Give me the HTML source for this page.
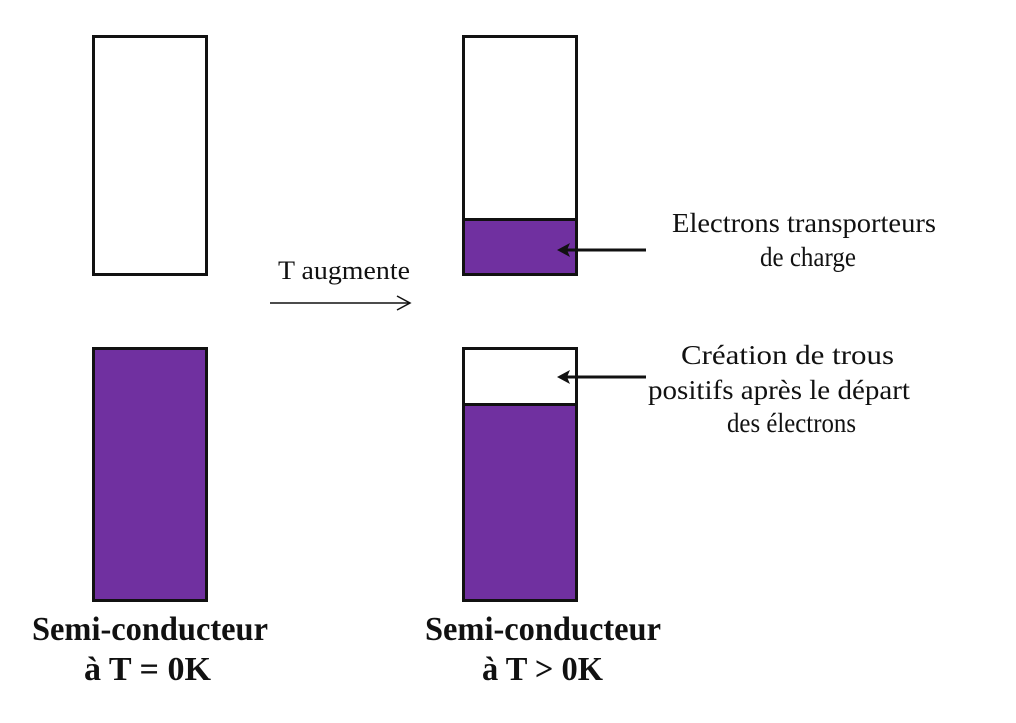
<!DOCTYPE html>
<html><head><meta charset="utf-8"><style>
html,body{margin:0;padding:0;background:#fff;}
svg{display:block;}
text{font-family:"Liberation Serif",serif;fill:#111;}
</style></head><body>
<svg width="1016" height="723" viewBox="0 0 1016 723" xmlns="http://www.w3.org/2000/svg">
<rect width="1016" height="723" fill="#fff"/>
<rect x="93.5" y="36.5" width="113" height="238" fill="#fff" stroke="#111" stroke-width="3"/>
<rect x="93.5" y="348.5" width="113" height="252" fill="#7030a0" stroke="#111" stroke-width="3"/>
<rect x="463.5" y="36.5" width="113" height="238" fill="#fff" stroke="#111" stroke-width="3"/>
<rect x="463.5" y="219.5" width="113" height="55" fill="#7030a0" stroke="#111" stroke-width="3"/>
<rect x="463.5" y="348.5" width="113" height="252" fill="#7030a0" stroke="#111" stroke-width="3"/>
<rect x="463.5" y="348.5" width="113" height="56" fill="#fff" stroke="#111" stroke-width="3"/>
<text x="278" y="279" font-size="26" textLength="132" lengthAdjust="spacingAndGlyphs">T augmente</text>
<line x1="270" y1="303" x2="409" y2="303" stroke="#111" stroke-width="1.5"/>
<polyline points="397,296 410,303 397,310" fill="none" stroke="#111" stroke-width="1.5"/>
<line x1="566" y1="250" x2="646" y2="250" stroke="#111" stroke-width="3"/>
<polygon points="557,250 570,243 567,250 570,257" fill="#111"/>
<line x1="566" y1="377" x2="646" y2="377" stroke="#111" stroke-width="3"/>
<polygon points="557,377 570,370 567,377 570,384" fill="#111"/>
<text x="672" y="232" font-size="27" textLength="264" lengthAdjust="spacingAndGlyphs">Electrons transporteurs</text>
<text x="760" y="266" font-size="27" textLength="96" lengthAdjust="spacingAndGlyphs">de charge</text>
<text x="681" y="364" font-size="27" textLength="213" lengthAdjust="spacingAndGlyphs">Création de trous</text>
<text x="648" y="399" font-size="27" textLength="262" lengthAdjust="spacingAndGlyphs">positifs après le départ</text>
<text x="727" y="432" font-size="27" textLength="129" lengthAdjust="spacingAndGlyphs">des électrons</text>
<text x="32" y="640" font-size="34" font-weight="bold" textLength="236" lengthAdjust="spacingAndGlyphs">Semi-conducteur</text>
<text x="84" y="680" font-size="34" font-weight="bold" textLength="127" lengthAdjust="spacingAndGlyphs">à T = 0K</text>
<text x="425" y="640" font-size="34" font-weight="bold" textLength="236" lengthAdjust="spacingAndGlyphs">Semi-conducteur</text>
<text x="482" y="680" font-size="34" font-weight="bold" textLength="121" lengthAdjust="spacingAndGlyphs">à T &gt; 0K</text>
</svg>
</body></html>
